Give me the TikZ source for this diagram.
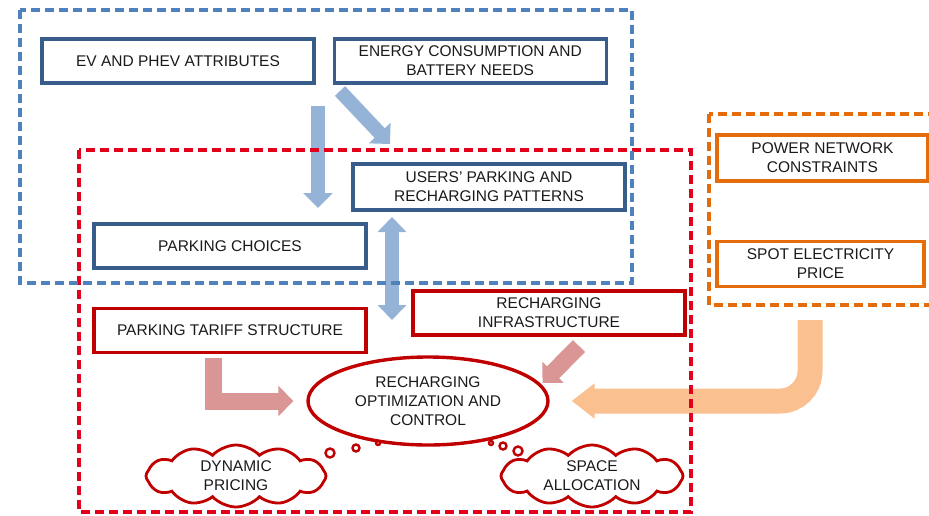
\documentclass[tikz,border=0pt]{standalone}
\usepackage{fontspec}
\setmainfont{Liberation Sans}
\usepackage{tikz}
\usetikzlibrary{positioning,arrows.meta,shapes.geometric,shapes.symbols}

\definecolor{boxblue}{HTML}{385D8A}
\definecolor{frameblue}{HTML}{4F81BD}
\definecolor{arrowblue}{HTML}{95B3D7}
\definecolor{boxred}{HTML}{C00000}
\definecolor{framered}{HTML}{E2001A}
\definecolor{arrowred}{HTML}{D99694}
\definecolor{boxorange}{HTML}{E46C0A}
\definecolor{arroworange}{HTML}{FAC090}
\definecolor{textgray}{HTML}{1A1A1A}

\begin{document}
\begin{tikzpicture}[x=1pt, y=-1pt, font=\fontsize{15.5}{18.8}\selectfont, text=textgray]
\tikzstyle{bluebox}=[rectangle, draw=boxblue, line width=3.2pt, fill=white, minimum width=272pt, minimum height=44pt, inner sep=0pt, align=center]
\tikzstyle{redbox}=[bluebox, draw=boxred]
\tikzstyle{orangebox}=[bluebox, draw=boxorange]
\tikzstyle{bluedash}=[draw=frameblue, line width=3.4pt, dash pattern=on 9pt off 5pt]
\tikzstyle{reddash}=[bluedash, draw=framered]
\tikzstyle{orangedash}=[bluedash, draw=boxorange]
\tikzstyle{bluearrow}=[draw=arrowblue, line width=14pt, -{Triangle[width=29pt, length=15pt]}]
\tikzstyle{redarrow}=[draw=arrowred, line width=17pt, -{Triangle[width=30pt, length=15pt]}]
\tikzstyle{orangearrow}=[draw=arroworange, line width=25pt, -{Triangle[width=34pt, length=23pt]}]
\tikzstyle{thought}=[ellipse, draw=boxred, line width=3.4pt, fill=white, minimum width=240pt, minimum height=88pt, inner sep=0pt, align=center]
\tikzstyle{puff}=[cloud, cloud puffs=12, cloud puff arc=95, aspect=3, draw=boxred, line width=2.8pt, fill=white, minimum width=180pt, minimum height=62pt, inner sep=0pt, align=center]
\tikzstyle{bubble}=[circle, draw=boxred, line width=2.4pt, fill=white, inner sep=0pt]

\useasboundingbox (0,0) rectangle (929,515);

  % boxes
  \node[bluebox] (ev) at (178,61) {EV AND PHEV ATTRIBUTES};
  \node[bluebox] (energy) [right=17pt of ev] {ENERGY CONSUMPTION AND\\BATTERY NEEDS};
  \node[bluebox, minimum height=46pt] (users) at (489,187) {USERS’ PARKING AND\\RECHARGING PATTERNS};
  \node[bluebox] (choices) at (230,246) {PARKING CHOICES};
  \node[redbox] (tariff) [below=37pt of choices] {PARKING TARIFF STRUCTURE};
  \node[redbox] (infra) at (549,313) {RECHARGING\\INFRASTRUCTURE};
  \node[orangebox, minimum width=211pt, minimum height=46pt] (power) at (822.5,158) {POWER NETWORK\\CONSTRAINTS};
  \node[orangebox, minimum width=207pt, minimum height=45pt] (spot) [below=57pt of power, xshift=-2pt] {SPOT ELECTRICITY\\PRICE};
  \node[thought] (ctrl) at (428,401) {RECHARGING\\OPTIMIZATION AND\\CONTROL};
  \node[puff] (dyn) at (236,476) {DYNAMIC\\PRICING};
  \node[puff, minimum width=182pt] (space) at (592,476) {SPACE\\ALLOCATION};

  % thought bubbles
  \node[bubble, minimum size=4pt] (dynb1) at (378,443) {};
  \node[bubble, minimum size=7pt] (dynb2) at (356,448) {};
  \node[bubble, minimum size=9pt] (dynb3) at (330,453) {};
  \node[bubble, minimum size=4pt] (spab1) at (491,443) {};
  \node[bubble, minimum size=7pt] (spab2) at (503,446) {};
  \node[bubble, minimum size=9pt] (spab3) at (518,451) {};

  % free ends of the block arrows
  \coordinate (downtop) at (318,106);
  \coordinate (downtip) at (318,208);
  \coordinate (diagtop) at (340,91);
  \coordinate (diagtip) at (390,144);
  \coordinate (dbltop) at (392,217);
  \coordinate (dblbot) at (392,320);
  \coordinate (lstart) at (213.5,358);
  \coordinate (infratail) at (579,346);
  \coordinate (infratip) at (542.5,383);
  \coordinate (spotstart) at (810,320);

  % block arrows
  \path (downtop) edge [bluearrow] (downtip)
        (diagtop) edge [bluearrow] (diagtip)
        (dbltop) edge [bluearrow, {Triangle[width=28pt, length=15pt]}-{Triangle[width=28pt, length=15pt]}] (dblbot)
        (infratail) edge [redarrow, -{Triangle[width=29pt, length=15pt]}] (infratip);
  \draw[redarrow, shorten >=13pt] (lstart) |- (ctrl.west);
  \draw[orangearrow, rounded corners=30pt, shorten >=22pt] (spotstart) |- (ctrl.east);

  % dashed frames
  \draw[orangedash] (709,114) rectangle (940,305);
  \draw[reddash] (79,150) rectangle (691,512);
  \draw[bluedash] (20,10) rectangle (632,283);

\end{tikzpicture}
\end{document}
